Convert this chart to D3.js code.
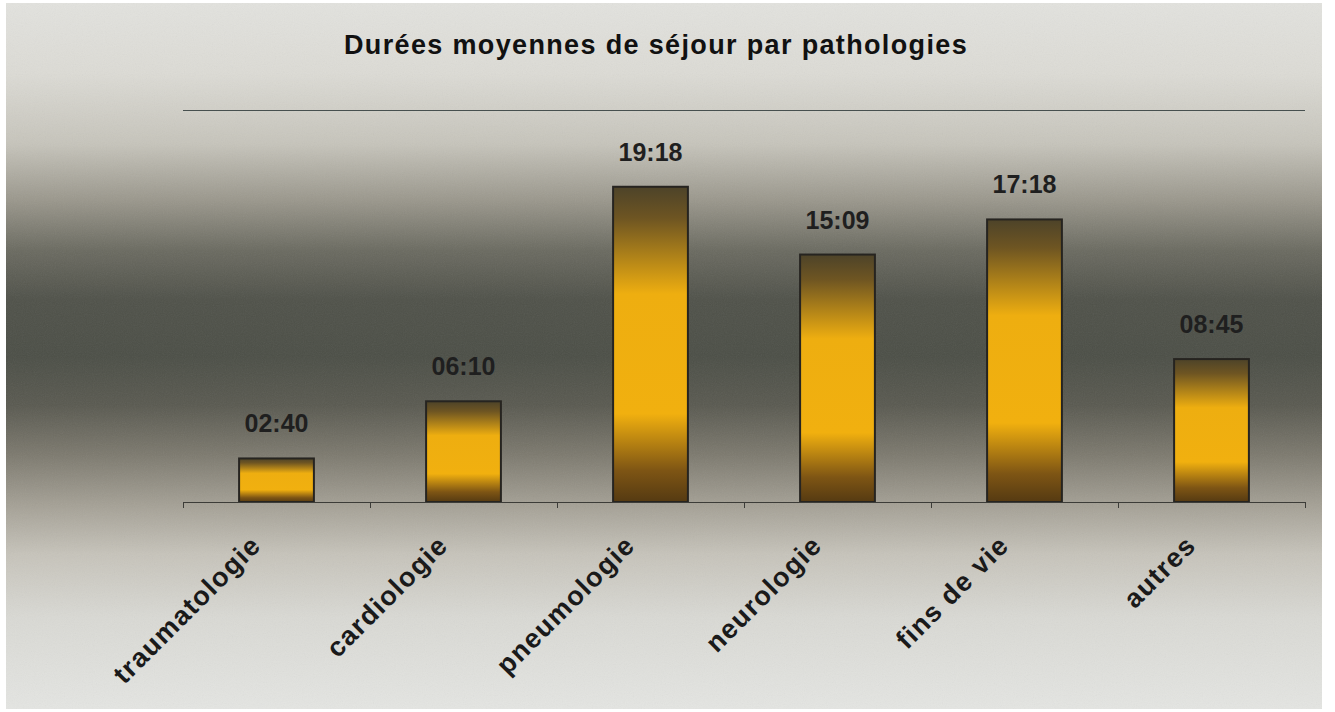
<!DOCTYPE html>
<html>
<head>
<meta charset="utf-8">
<script src="https://cdn.jsdelivr.net/npm/d3@7"></script>
<style>
  body { margin: 0; background: #fff; }
  svg { display: block; }
  text { font-family: "Liberation Sans", Arial, sans-serif; }
</style>
</head>
<body>
<div id="chart"></div>
<script>
// durées moyennes de séjour (hh:mm)
var categories = ["traumatologie", "cardiologie", "pneumologie", "neurologie", "fins de vie", "autres"];
var durations = ["02:40", "06:10", "19:18", "15:09", "17:18", "08:45"];
var maxDuration = "24:00";

function toMinutes(s) {
    var p = s.split(":");
    return (+p[0]) * 60 + (+p[1]);
}

var data = categories.map(function(c, i) {
    return { name: c, label: durations[i], value: toMinutes(durations[i]) };
});

var width = 1335, height = 712;

var svg = d3.select("#chart").append("svg")
    .attr("width", width)
    .attr("height", height);

var defs = svg.append("defs");

// background: light at top and bottom, dark band in the middle
var bg = defs.append("linearGradient")
    .attr("id", "bg")
    .attr("x1", 0).attr("y1", 0).attr("x2", 0).attr("y2", 1);
[[0, "#e2e2de"], [0.1, "#dcdbd5"], [0.2, "#c6c4bb"], [0.28, "#9a978c"],
 [0.35, "#6b6b61"], [0.42, "#50524a"], [0.5, "#4c4f47"], [0.57, "#5a5a51"],
 [0.64, "#7d7a6f"], [0.71, "#a4a095"], [0.78, "#c6c3ba"], [0.87, "#d9d9d4"],
 [1, "#e4e5e2"]].forEach(function(s) {
    bg.append("stop").attr("offset", s[0]).attr("stop-color", s[1]);
});

// bar fill: dark brown top, gold middle, dark brown bottom
var bar = defs.append("linearGradient")
    .attr("id", "bar")
    .attr("x1", 0).attr("y1", 0).attr("x2", 0).attr("y2", 1);
[[0, "#4d4329"], [0.1, "#6e5522"], [0.34, "#eeae10"], [0.72, "#f1b00f"],
 [0.9, "#7e5514"], [1, "#553a12"]].forEach(function(s) {
    bar.append("stop").attr("offset", s[0]).attr("stop-color", s[1]);
});

// grain
var grain = defs.append("filter").attr("id", "grain")
    .attr("x", 0).attr("y", 0).attr("width", "100%").attr("height", "100%");
grain.append("feTurbulence").attr("type", "fractalNoise")
    .attr("baseFrequency", 0.9).attr("numOctaves", 2).attr("seed", 3);
grain.append("feColorMatrix").attr("type", "saturate").attr("values", 0);

svg.append("rect")
    .attr("x", 6).attr("y", 3)
    .attr("width", 1316).attr("height", 706)
    .attr("fill", "url(#bg)");

svg.append("rect")
    .attr("x", 6).attr("y", 3)
    .attr("width", 1316).attr("height", 706)
    .attr("filter", "url(#grain)")
    .attr("opacity", 0.08);

var x = d3.scaleBand()
    .domain(categories)
    .range([183, 1305])
    .paddingInner(0.6)
    .paddingOuter(0.3);

var y = d3.scaleLinear()
    .domain([0, toMinutes(maxDuration)])
    .range([502, 110]);

// title
svg.append("text")
    .attr("x", 656)
    .attr("y", 54)
    .attr("text-anchor", "middle")
    .attr("font-size", 27)
    .attr("font-weight", "bold")
    .attr("letter-spacing", 1.35)
    .attr("fill", "#111")
    .text("Durées moyennes de séjour par pathologies");

// top line (24:00)
svg.append("line")
    .attr("x1", 183).attr("x2", 1305)
    .attr("y1", y(toMinutes(maxDuration)) + 0.5)
    .attr("y2", y(toMinutes(maxDuration)) + 0.5)
    .attr("stroke", "#47504f")
    .attr("stroke-width", 1);

// bars
svg.selectAll(".bar")
    .data(data)
    .enter().append("rect")
    .attr("class", "bar")
    .attr("x", function(d) { return x(d.name); })
    .attr("y", function(d) { return y(d.value); })
    .attr("width", x.bandwidth())
    .attr("height", function(d) { return y(0) - y(d.value); })
    .attr("fill", "url(#bar)")
    .attr("stroke", "#262420")
    .attr("stroke-width", 2);

// value labels
svg.selectAll(".val")
    .data(data)
    .enter().append("text")
    .attr("class", "val")
    .attr("x", function(d) { return x(d.name) + x.bandwidth() / 2; })
    .attr("y", function(d) { return y(d.value) - 26; })
    .attr("text-anchor", "middle")
    .attr("font-size", 25)
    .attr("font-weight", "bold")
    .attr("fill", "#1f1f1f")
    .text(function(d) { return d.label; });

// category axis
var xAxis = svg.append("g")
    .attr("transform", "translate(0," + y(0) + ")")
    .call(d3.axisBottom(x).tickSize(0).tickSizeOuter(0));

xAxis.select(".domain").remove();

xAxis.selectAll("text")
    .attr("x", 0).attr("y", 0).attr("dy", 0)
    .attr("transform", "translate(-14,45) rotate(-45)")
    .attr("text-anchor", "end")
    .attr("font-size", 27)
    .attr("font-weight", "bold")
    .attr("letter-spacing", 1.3)
    .attr("font-family", "Liberation Sans, Arial, sans-serif")
    .attr("fill", "#1a1a1a");

// baseline and tick marks between categories
svg.append("line")
    .attr("x1", 183).attr("x2", 1305)
    .attr("y1", y(0) + 0.5).attr("y2", y(0) + 0.5)
    .attr("stroke", "#3c3c38");

var bounds = d3.range(categories.length + 1).map(function(i) { return 183 + i * x.step(); });
svg.selectAll(".tickmark")
    .data(bounds)
    .enter().append("line")
    .attr("class", "tickmark")
    .attr("x1", function(d) { return d + 0.5; })
    .attr("x2", function(d) { return d + 0.5; })
    .attr("y1", y(0)).attr("y2", y(0) + 6)
    .attr("stroke", "#3c3c38");
</script>
</body>
</html>
